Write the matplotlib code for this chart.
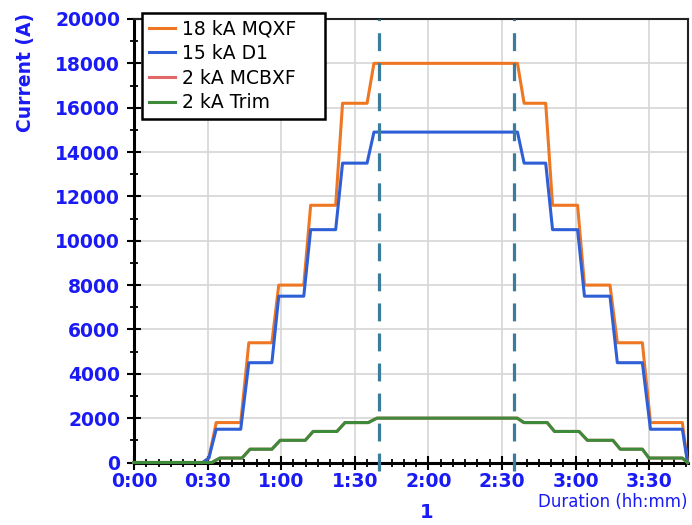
import numpy as np
import matplotlib.pyplot as plt

# time in minutes, currents in A
t_main = [0, 28, 30.5, 33.5, 43.5, 46.8, 56.2, 59, 69.2, 72, 82.2, 85, 95, 97.8,
          156.3, 159, 167.8, 170.6, 180.8, 183.6, 194, 197, 207.2, 210.5, 223.5, 225.6]
mqxf = [0, 0, 200, 1800, 1800, 5400, 5400, 8000, 8000, 11600, 11600, 16200, 16200, 18000,
        18000, 16200, 16200, 11600, 11600, 8000, 8000, 5400, 5400, 1800, 1800, 0]
d1 = [0, 0, 200, 1500, 1500, 4500, 4500, 7500, 7500, 10500, 10500, 13500, 13500, 14900,
      14900, 13500, 13500, 10500, 10500, 7500, 7500, 4500, 4500, 1500, 1500, 0]

t_small = [0, 31.7, 35, 44, 47.3, 56.2, 59.6, 69.8, 73, 82.7, 86, 95.5, 99,
           156.2, 158.9, 168.4, 171.4, 181.4, 184.8, 195.2, 198.2, 207.2, 209.9, 223.5, 225.6]
mcbxf = [0, 0, 200, 200, 600, 600, 1000, 1000, 1400, 1400, 1800, 1800, 2000,
         2000, 1800, 1800, 1400, 1400, 1000, 1000, 600, 600, 200, 200, 0]
trim = [0, 0, 200, 200, 600, 600, 1000, 1000, 1400, 1400, 1800, 1800, 2000,
        2000, 1800, 1800, 1400, 1400, 1000, 1000, 600, 600, 200, 200, 0]

ref_times = [100, 155]

x_ticks = [0, 30, 60, 90, 120, 150, 180, 210]
x_labels = ['0:00', '0:30', '1:00', '1:30', '2:00', '2:30', '3:00', '3:30']
y_ticks = [0, 2000, 4000, 6000, 8000, 10000, 12000, 14000, 16000, 18000, 20000]

blue_txt = '#1a1af5'

fig = plt.figure(figsize=(6.92, 5.25), dpi=100)
ax = fig.add_axes([134/692, 62.5/525, 554/692, 443.5/525])

ax.plot(t_main, mqxf, color='#ef7622', lw=2.2, label='18 kA MQXF', zorder=3, clip_on=False)
ax.plot(t_main, d1, color='#2f5fd6', lw=2.2, label='15 kA D1', zorder=3, clip_on=False)
ax.plot(t_small, mcbxf, color='#e06868', lw=2.2, label='2 kA MCBXF', zorder=3, clip_on=False)
ax.plot(t_small, trim, color='#3c8a3a', lw=2.2, label='2 kA Trim', zorder=3, clip_on=False)

for tr in ref_times:
    ax.axvline(tr, ymin=-0.02, ymax=1, color='#3a7c9b', lw=2.3,
               linestyle=(0, (5.6, 3.8)), clip_on=False, zorder=4)

ax.set_xlim(0, 225.8)
ax.set_ylim(0, 20000)
ax.set_xticks(x_ticks, labels=x_labels, fontweight='bold')
ax.set_yticks(y_ticks, labels=[str(v) for v in y_ticks], fontweight='bold')
ax.set_xticks(np.arange(0, 226, 5), minor=True)
ax.set_yticks(np.arange(0, 20001, 1000), minor=True)
ax.tick_params(which='major', direction='inout', length=10, width=1.5,
               labelsize=13.5, labelcolor=blue_txt)
ax.tick_params(which='minor', direction='inout', length=6, width=1.3)
ax.tick_params(axis='y', which='major', pad=5)
ax.tick_params(axis='x', which='major', pad=2)
ax.grid(True, which='major', color='#d6d6d6', lw=1.2)
ax.set_axisbelow(True)

for s in ['left', 'bottom']:
    ax.spines[s].set_linewidth(2.2)
for s in ['top', 'right']:
    ax.spines[s].set_linewidth(1.5)
    ax.spines[s].set_color('#222222')

leg = ax.legend(loc='upper left', bbox_to_anchor=(142/692, 1 - 18/525, 183/692, 0.01),
                bbox_transform=fig.transFigure, mode='expand', borderaxespad=0,
                fontsize=13.5, fancybox=False, edgecolor='black', framealpha=1,
                handlelength=1.4, handletextpad=0.4, labelspacing=0.3, borderpad=0.35)
leg.get_frame().set_linewidth(1.8)

fig.text(25/692, 1 - 13/525, 'Current (A)', rotation=90, ha='center', va='top',
         color=blue_txt, fontsize=13.5, fontweight='bold')
fig.text(688/692, 1 - 502/525, 'Duration (hh:mm)', ha='right', va='center',
         color=blue_txt, fontsize=12)
fig.text(427/692, 1 - 513/525, '1', ha='center', va='center',
         color=blue_txt, fontsize=14, fontweight='bold')

plt.savefig('out.png', dpi=100)
